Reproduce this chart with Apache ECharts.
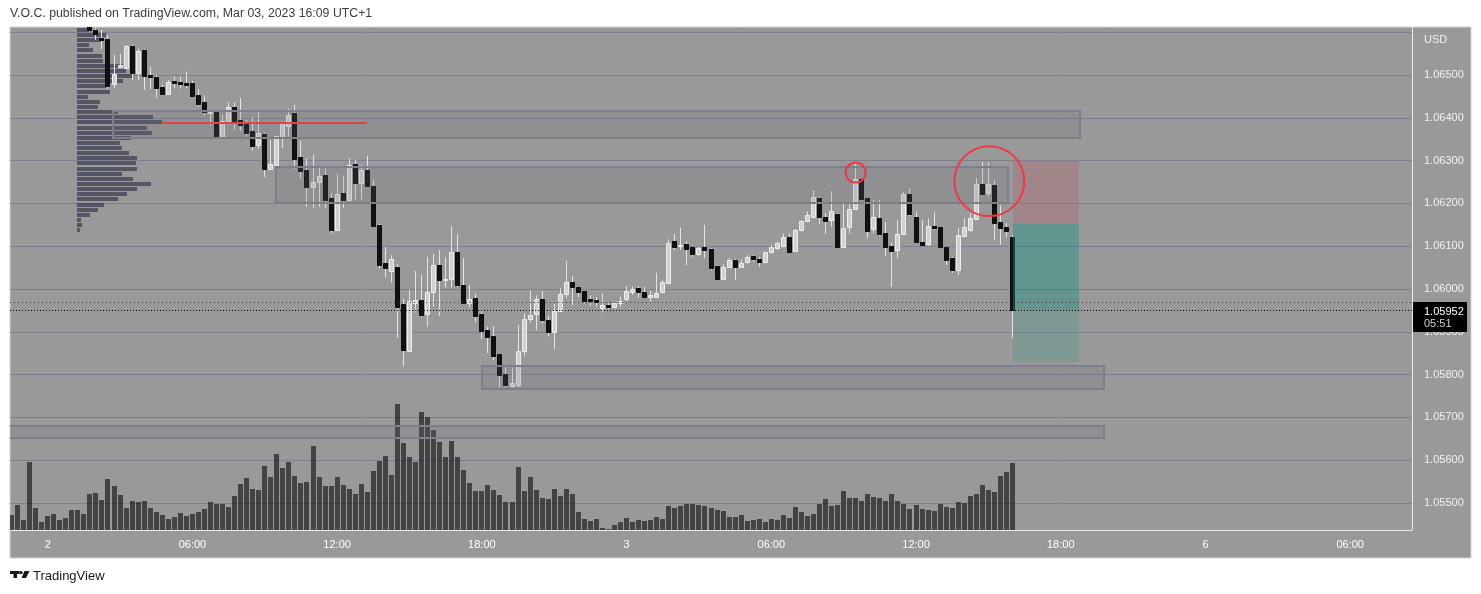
<!DOCTYPE html>
<html><head><meta charset="utf-8">
<script src="https://cdn.jsdelivr.net/npm/echarts@6/dist/echarts.min.js"></script>
<style>html,body{margin:0;padding:0;background:#fff}#c{width:1481px;height:594px}</style>
</head><body><div id="c"></div>
<script>
// 15-minute bars; array position 0 = 22:30 (Mar 1), bar index 0 = 00:00 Mar 2
const firstIndex = -6;
// [open, close, low, high]
const candles = [
[1.06640,1.06655,1.06630,1.06668],[1.06655,1.06645,1.06635,1.06670],[1.06645,1.06650,1.06638,1.06660],
[1.06650,1.06628,1.06618,1.06672],[1.06628,1.06636,1.06620,1.06645],[1.06636,1.06632,1.06625,1.06642],
[1.06632,1.06640,1.06626,1.06648],[1.06640,1.06635,1.06628,1.06646],[1.06635,1.06638,1.06630,1.06644],
[1.06638,1.06630,1.06624,1.06643],[1.06630,1.06636,1.06622,1.06645],[1.06636,1.06625,1.06618,1.06640],
[1.06625,1.06614,1.06613,1.06630],[1.06614,1.06604,1.06601,1.06618],[1.06604,1.06596,1.06582,1.06609],
[1.06587,1.06582,1.06561,1.06605],[1.06584,1.06474,1.06467,1.06593],[1.06479,1.06502,1.06469,1.06547],
[1.06518,1.06523,1.06516,1.06549],[1.06516,1.06568,1.06514,1.06570],[1.06568,1.06504,1.06488,1.06570],
[1.06504,1.06556,1.06488,1.06562],[1.06558,1.06498,1.06465,1.06560],[1.06500,1.06495,1.06467,1.06519],
[1.06495,1.06470,1.06447,1.06500],[1.06472,1.06456,1.06452,1.06477],[1.06456,1.06484,1.06453,1.06488],
[1.06486,1.06482,1.06469,1.06496],[1.06484,1.06480,1.06469,1.06496],[1.06481,1.06477,1.06469,1.06508],
[1.06481,1.06452,1.06449,1.06486],[1.06453,1.06433,1.06426,1.06467],[1.06438,1.06413,1.06405,1.06452],
[1.06411,1.06413,1.06383,1.06414],[1.06414,1.06355,1.06355,1.06416],[1.06355,1.06393,1.06355,1.06407],
[1.06391,1.06425,1.06383,1.06436],[1.06425,1.06393,1.06372,1.06436],[1.06395,1.06383,1.06369,1.06447],
[1.06385,1.06365,1.06356,1.06395],[1.06368,1.06335,1.06323,1.06402],[1.06337,1.06364,1.06327,1.06413],
[1.06363,1.06280,1.06262,1.06365],[1.06280,1.06291,1.06278,1.06348],[1.06290,1.06357,1.06290,1.06358],
[1.06356,1.06387,1.06329,1.06391],[1.06382,1.06407,1.06356,1.06421],[1.06411,1.06304,1.06280,1.06430],
[1.06309,1.06276,1.06257,1.06346],[1.06278,1.06238,1.06192,1.06305],[1.06238,1.06250,1.06190,1.06314],
[1.06250,1.06264,1.06192,1.06282],[1.06266,1.06208,1.06190,1.06282],[1.06213,1.06138,1.06130,1.06224],
[1.06138,1.06221,1.06138,1.06270],[1.06224,1.06208,1.06190,1.06265],[1.06208,1.06290,1.06206,1.06305],
[1.06291,1.06248,1.06208,1.06301],[1.06248,1.06277,1.06208,1.06290],[1.06277,1.06241,1.06241,1.06312],
[1.06241,1.06147,1.06146,1.06256],[1.06150,1.06056,1.06048,1.06152],[1.06060,1.06050,1.06027,1.06098],
[1.06043,1.06069,1.06015,1.06079],[1.06052,1.05959,1.05886,1.06058],[1.05964,1.05858,1.05819,1.05978],
[1.05856,1.05973,1.05856,1.05998],[1.05968,1.05975,1.05945,1.06042],[1.05974,1.05939,1.05935,1.06033],
[1.05941,1.05993,1.05912,1.06075],[1.05992,1.06055,1.05959,1.06082],[1.06055,1.06020,1.05937,1.06091],
[1.06022,1.06024,1.06003,1.06074],[1.06024,1.06086,1.06003,1.06147],[1.06086,1.06009,1.06005,1.06129],
[1.06009,1.05968,1.05968,1.06072],[1.05968,1.05977,1.05957,1.06009],[1.05978,1.05937,1.05923,1.05989],
[1.05941,1.05902,1.05883,1.05951],[1.05904,1.05889,1.05851,1.05912],[1.05890,1.05844,1.05834,1.05913],
[1.05848,1.05798,1.05770,1.05848],[1.05801,1.05776,1.05770,1.05817],[1.05774,1.05780,1.05770,1.05817],
[1.05776,1.05855,1.05770,1.05916],[1.05856,1.05930,1.05844,1.05943],[1.05929,1.05939,1.05921,1.05996],
[1.05941,1.05976,1.05904,1.05985],[1.05976,1.05927,1.05920,1.05996],[1.05927,1.05900,1.05889,1.05937],
[1.05900,1.05949,1.05860,1.05965],[1.05949,1.05989,1.05949,1.06002],[1.05988,1.06016,1.05980,1.06066],
[1.06016,1.06004,1.05963,1.06030],[1.06004,1.05994,1.05981,1.06005],[1.05995,1.05973,1.05967,1.05996],
[1.05976,1.05973,1.05961,1.05985],[1.05974,1.05969,1.05959,1.05981],[1.05955,1.05963,1.05945,1.05990],
[1.05963,1.05957,1.05953,1.05967],[1.05957,1.05967,1.05955,1.05970],[1.05967,1.05971,1.05959,1.05982],
[1.05976,1.05995,1.05971,1.06007],[1.05994,1.05999,1.05986,1.06005],[1.06002,1.05993,1.05980,1.06007],
[1.05993,1.05982,1.05980,1.06005],[1.05982,1.05986,1.05968,1.05996],[1.05982,1.05990,1.05981,1.06038],
[1.05992,1.06016,1.05990,1.06021],[1.06015,1.06107,1.06015,1.06116],[1.06113,1.06099,1.06091,1.06129],
[1.06101,1.06103,1.06091,1.06144],[1.06105,1.06094,1.06056,1.06111],[1.06097,1.06082,1.06074,1.06099],
[1.06082,1.06096,1.06077,1.06099],[1.06097,1.06090,1.06072,1.06150],[1.06093,1.06050,1.06044,1.06095],
[1.06054,1.06024,1.06021,1.06055],[1.06023,1.06052,1.06021,1.06058],[1.06052,1.06068,1.06051,1.06072],
[1.06068,1.06051,1.06021,1.06070],[1.06052,1.06060,1.06051,1.06069],[1.06062,1.06074,1.06060,1.06079],
[1.06077,1.06070,1.06064,1.06079],[1.06070,1.06064,1.06052,1.06074],[1.06064,1.06086,1.06060,1.06087],
[1.06087,1.06097,1.06083,1.06103],[1.06095,1.06107,1.06091,1.06111],[1.06101,1.06121,1.06099,1.06129],
[1.06121,1.06087,1.06087,1.06130],[1.06089,1.06138,1.06089,1.06140],[1.06138,1.06160,1.06134,1.06161],
[1.06160,1.06173,1.06157,1.06181],[1.06169,1.06214,1.06165,1.06231],[1.06212,1.06169,1.06152,1.06216],
[1.06168,1.06160,1.06129,1.06177],[1.06161,1.06182,1.06146,1.06228],[1.06176,1.06097,1.06095,1.06176],
[1.06099,1.06142,1.06099,1.06200],[1.06144,1.06186,1.06130,1.06198],[1.06186,1.06256,1.06185,1.06292],
[1.06256,1.06210,1.06206,1.06256],[1.06212,1.06136,1.06119,1.06212],[1.06140,1.06168,1.06130,1.06208],
[1.06165,1.06128,1.06124,1.06208],[1.06130,1.06097,1.06077,1.06157],[1.06101,1.06089,1.06005,1.06107],
[1.06091,1.06128,1.06072,1.06161],[1.06128,1.06221,1.06126,1.06227],[1.06221,1.06175,1.06169,1.06235],
[1.06169,1.06109,1.06107,1.06181],[1.06110,1.06103,1.06101,1.06161],[1.06105,1.06147,1.06101,1.06165],
[1.06147,1.06143,1.06138,1.06181],[1.06144,1.06099,1.06099,1.06144],[1.06099,1.06068,1.06056,1.06099],
[1.06073,1.06044,1.06038,1.06075],[1.06044,1.06126,1.06033,1.06142],[1.06124,1.06144,1.06122,1.06165],
[1.06138,1.06165,1.06134,1.06177],[1.06164,1.06245,1.06161,1.06259],[1.06245,1.06222,1.06220,1.06297],
[1.06224,1.06245,1.06216,1.06295],[1.06243,1.06154,1.06115,1.06255],[1.06157,1.06143,1.06103,1.06196],
[1.06146,1.06136,1.06121,1.06154],[1.06121,1.05952,1.05886,1.06126]
];
const volumes = [
15,25,10,68,22,8,14,16,10,12,20,20,16,36,37,30,51,44,35,22,29,28,29,22,18,15,11,13,17,14,
16,18,21,28,26,26,23,34,46,52,41,40,64,53,76,62,68,54,47,48,84,53,44,44,53,45,41,36,46,38,
59,69,74,55,126,87,73,68,118,113,100,88,73,89,73,60,47,39,39,45,40,35,28,28,63,39,53,40,32,31,
41,34,41,36,18,11,9,11,2,1,5,8,12,8,10,9,10,13,11,24,22,24,26,26,25,24,22,20,19,13,
13,15,9,10,11,8,11,10,15,12,23,18,14,16,26,31,24,25,39,32,32,29,36,33,32,29,36,29,26,21,
25,21,20,19,26,23,22,28,27,34,36,45,40,38,54,58,67
];
const timeTickValues = [0,24,48,72,96,120,144,168,192,216];
const timeTickLabels = ['2','06:00','12:00','18:00','3','06:00','12:00','18:00','6','06:00'];
const priceGridValues = [1.055,1.056,1.057,1.058,1.059,1.060,1.061,1.062,1.063,1.064,1.065,1.066];
const priceLabelValues = [1.055,1.056,1.057,1.058,1.059,1.060,1.061,1.062,1.063,1.064,1.065];
const profilePrices = [1.06604,1.06592,1.06580,1.06568,1.06556,1.06544,1.06532,1.06520,1.06508,1.06496,
1.06484,1.06472,1.06460,1.06448,1.06436,1.06424,1.06412,1.06400,1.06388,1.06376,
1.06364,1.06352,1.06340,1.06328,1.06316,1.06304,1.06292,1.06280,1.06268,1.06256,
1.06244,1.06232,1.06220,1.06208,1.06196,1.06184,1.06172,1.06160,1.06148,1.06136];
const profileVolumes = [14,29,24,12,16,25,26,46,49,56,46,29,33,11,23,21,41,76,85,70,
75,54,43,45,52,60,59,60,45,56,74,60,50,41,27,21,13,4,5,3];
const profileStep = 0.00012;
// zones: [fromBar, toBar, topPrice, bottomPrice]
const zones = [[10.83,171.2,1.06417,1.06352],[37.86,159.26,1.06286,1.06201],[71.97,175.2,1.05820,1.05766],[-12,175.2,1.05681,1.05653]];
const pocLine = [[19.0,52.9,1.06389]];
const shortStop = [[160.05,170.98,1.06299,1.06151]];
const shortTarget = [[160.05,170.98,1.06151,1.05830]];
const shortOpenPL = [[160.05,170.98,1.06151,1.05952]];
// circles: [centerBar, centerPrice, radiusInBars]
const circles = [[134.0,1.06272,1.66],[156.15,1.06252,5.8]];
const lastPrice = 1.05952;
const prevPrice = 1.05969;
const barCountdown = '05:51';

const X_MIN = -6.25, X_MAX = 226.25;
const Y_MIN = 1.0543692, Y_MAX = 1.0661215;
const FONT = 'Liberation Sans';

const candleData = candles.map((c, k) => [firstIndex + k, c[0], c[1], c[2], c[3]]);
const volumeData = volumes.map((v, k) => [firstIndex + k, v]);
const profileData = profileVolumes.map((v, k) => [v, profilePrices[k]]);

function rectSeries(data, fill, stroke, lw, z) {
  return {type:'custom', xAxisIndex:0, yAxisIndex:0, clip:true, z, silent:true,
    encode:{x:[0,1], y:[2,3]}, data,
    renderItem(params, api){
      const a = api.coord([api.value(0), api.value(2)]);
      const b = api.coord([api.value(1), api.value(3)]);
      const x = Math.round(a[0]), y = Math.round(a[1]);
      return {type:'rect', shape:{x, y, width:Math.round(b[0])-x, height:Math.round(b[1])-y},
        style:{fill, stroke: stroke || null, lineWidth: lw}};
    }};
}
function hLineSeries(data, color, lw, dash, z) {
  return {type:'custom', xAxisIndex:0, yAxisIndex:0, clip:true, z, silent:true,
    encode:{x:[0,1], y:2}, data,
    renderItem(params, api){
      const a = api.coord([api.value(0), api.value(2)]);
      const b = api.coord([api.value(1), api.value(2)]);
      const y = Math.round(a[1]) + (lw % 2 ? 0.5 : 0);
      return {type:'line', shape:{x1:a[0], y1:y, x2:b[0], y2:y}, style:{stroke:color, lineWidth:lw, lineDash:dash}};
    }};
}

const chart = echarts.init(document.getElementById('c'), null, {renderer:'canvas'});
const option = {
  backgroundColor:'#ffffff',
  animation:false,
  textStyle:{fontFamily:FONT},
  graphic:{elements:[
    {type:'rect', z:-10, shape:{x:10, y:27, width:1461, height:531}, style:{fill:'#999999', stroke:'#d4d4d4', lineWidth:1}},
    {type:'text', x:10, y:14, style:{text:'V.O.C. published on TradingView.com, Mar 03, 2023 16:09 UTC+1', fill:'#3b3b3b', font:'12.3px "Liberation Sans"', verticalAlign:'middle'}},
    {type:'text', x:1424, y:40, z:10, style:{text:'USD', fill:'#f2f2f2', font:'11px "Liberation Sans"', verticalAlign:'middle'}},
    {type:'rect', shape:{x:10, y:571, width:9.5, height:3}, style:{fill:'#131722'}},
    {type:'rect', shape:{x:13.5, y:571, width:3.5, height:7}, style:{fill:'#131722'}},
    {type:'circle', shape:{cx:21, cy:572.6, r:1.7}, style:{fill:'#131722'}},
    {type:'polygon', shape:{points:[[24.5,571],[29.5,571],[26,578],[21.5,578]]}, style:{fill:'#131722'}},
    {type:'text', x:33, y:576, style:{text:'TradingView', fill:'#131722', font:'13px "Liberation Sans"', verticalAlign:'middle'}}
  ]},
  grid:[{left:10, top:27, width:1402, height:503, show:false}],
  xAxis:[
    {type:'value', gridIndex:0, min:X_MIN, max:X_MAX, position:'bottom',
     axisLine:{show:true, onZero:false, lineStyle:{color:'#ececec', width:1}},
     axisTick:{show:false, customValues:timeTickValues},
     splitLine:{show:false},
     axisLabel:{customValues:timeTickValues, color:'#ffffff', fontSize:11, fontFamily:FONT, margin:9,
       formatter:(v)=>{const k=timeTickValues.indexOf(Math.round(v)); return k>=0?timeTickLabels[k]:'';}}},
    {type:'value', gridIndex:0, min:-67, max:1335, show:false}
  ],
  yAxis:[
    {type:'value', gridIndex:0, position:'right', min:Y_MIN, max:Y_MAX, scale:true,
     axisLine:{show:true, onZero:false, lineStyle:{color:'#ececec', width:1}},
     axisTick:{show:false, customValues:priceGridValues},
     splitLine:{show:true, lineStyle:{color:'#80818f', width:1}},
     axisLabel:{customValues:priceLabelValues, color:'#f2f2f2', fontSize:11, fontFamily:FONT, margin:12,
       formatter:(v)=>v.toFixed(5)}},
    {type:'value', gridIndex:0, min:0, max:503, show:false}
  ],
  series:[
    // volume profile
    {type:'custom', xAxisIndex:1, yAxisIndex:0, clip:true, z:2, silent:true, encode:{x:0, y:1}, data:profileData,
     renderItem(params, api){
       const a = api.coord([0, api.value(1)]);
       const b = api.coord([api.value(0), api.value(1)]);
       const h = api.size([0, profileStep])[1];
       const y = Math.round(a[1] - h/2);
       return {type:'rect', shape:{x:Math.round(a[0]), y, width:Math.round(b[0]-a[0]), height:Math.round(h)-1},
         style:{fill:'rgba(52,55,75,0.68)'}};
     }},
    // volumes
    {type:'custom', xAxisIndex:0, yAxisIndex:1, clip:true, z:3, silent:true, encode:{x:0, y:1}, data:volumeData,
     renderItem(params, api){
       const p = api.coord([api.value(0), api.value(1)]);
       const base = api.coord([api.value(0), 0]);
       const w = Math.round(api.size([1,0])[0]*0.78);
       const x = Math.round(p[0] - w/2);
       const y = Math.round(p[1]);
       return {type:'rect', shape:{x, y, width:w, height:Math.round(base[1])-y}, style:{fill:'rgba(10,10,10,0.6)'}};
     }},
    // candles
    {type:'custom', xAxisIndex:0, yAxisIndex:0, clip:true, z:4, silent:true, encode:{x:0, y:[1,2,3,4]}, data:candleData,
     renderItem(params, api){
       const x = api.value(0), o = api.value(1), c = api.value(2), l = api.value(3), h = api.value(4);
       const pO = api.coord([x,o]), pC = api.coord([x,c]), pL = api.coord([x,l]), pH = api.coord([x,h]);
       const w = Math.round(api.size([1,0])[0]*0.78);
       const left = Math.round(pO[0] - w/2);
       const cx = left + Math.floor(w/2) + 0.5;
       const up = c >= o;
       const top = Math.round(Math.min(pO[1], pC[1]));
       const bot = Math.round(Math.max(pO[1], pC[1]));
       return {type:'group', children:[
         {type:'line', shape:{x1:cx, y1:pH[1], x2:cx, y2:pL[1]}, style:{stroke:'#e4e4e4', lineWidth:1}},
         {type:'rect', shape:{x:left+0.5, y:top+0.5, width:w-1, height:Math.max(bot-top,1)},
          style:{fill: up ? '#d0d0d0' : '#121212', stroke: up ? '#eeeeee' : '#0c0c0c', lineWidth:1}}
       ]};
     }},
    // zones
    rectSeries(zones, 'rgba(108,110,126,0.2)', '#7c7e8e', 2, 6),
    // short position tool
    rectSeries(shortStop, 'rgba(190,70,80,0.22)', null, 0, 7),
    rectSeries(shortTarget, 'rgba(30,150,130,0.22)', null, 0, 7),
    rectSeries(shortOpenPL, 'rgba(10,140,120,0.25)', null, 0, 7),
    // POC line
    hLineSeries(pocLine, '#e0444b', 2, null, 8),
    // previous / last price dotted lines
    hLineSeries([[X_MIN, X_MAX, prevPrice]], '#3c3c3c', 1, [1,3], 8),
    hLineSeries([[X_MIN, X_MAX, lastPrice]], '#000000', 1, [1,2], 8),
    // circles
    {type:'custom', xAxisIndex:0, yAxisIndex:0, clip:true, z:9, silent:true, encode:{x:0, y:1}, data:circles,
     renderItem(params, api){
       const p = api.coord([api.value(0), api.value(1)]);
       const r = api.size([api.value(2), 0])[0];
       return {type:'circle', shape:{cx:p[0], cy:p[1], r}, style:{fill:null, stroke:'#f23645', lineWidth:2}};
     }},
    // last price label on the price scale
    {type:'custom', xAxisIndex:0, yAxisIndex:0, clip:false, z:20, silent:true, encode:{x:0, y:1}, data:[[X_MAX, lastPrice]],
     renderItem(params, api){
       const p = api.coord([api.value(0), api.value(1)]);
       const y = Math.round(p[1]);
       return {type:'group', children:[
         {type:'rect', shape:{x:Math.round(p[0])+1, y:y-8, width:54, height:30}, style:{fill:'#000000'}},
         {type:'text', x:Math.round(p[0])+12, y:y+2, style:{text:lastPrice.toFixed(5), fill:'#ffffff', font:'11px "Liberation Sans"', verticalAlign:'middle'}},
         {type:'text', x:Math.round(p[0])+12, y:y+14, style:{text:barCountdown, fill:'#d0d0d0', font:'11px "Liberation Sans"', verticalAlign:'middle'}}
       ]};
     }}
  ]
};
chart.setOption(option);
</script>
</body></html>
